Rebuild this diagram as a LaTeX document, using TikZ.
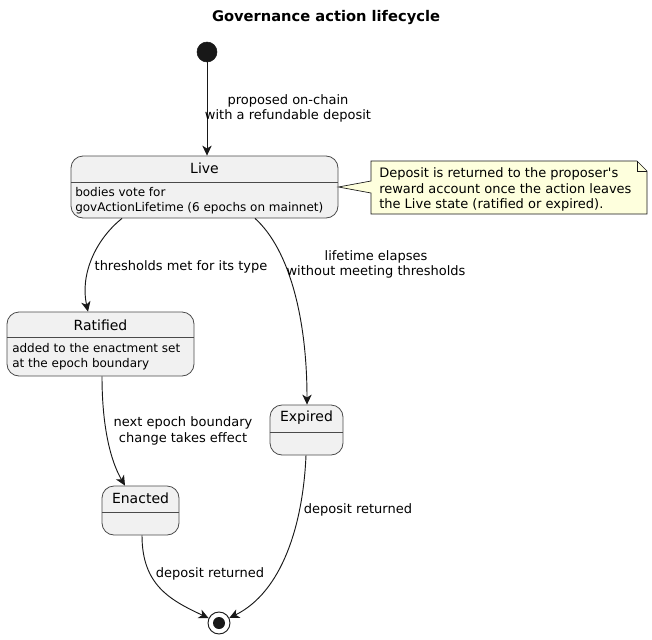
\documentclass[tikz,border=0pt]{standalone}
\usepackage{fontspec}
\setmainfont{DejaVu Sans}
\usetikzlibrary{arrows.meta,calc}
\definecolor{statefill}{HTML}{F1F1F1}
\definecolor{stateborder}{HTML}{4A4A4A}
\definecolor{notefill}{HTML}{FEFFDD}
\definecolor{ink}{HTML}{181818}
\begin{document}
\begin{tikzpicture}[x=0.75pt,y=-0.75pt,
  statebox/.style 2 args={draw=stateborder, fill=statefill, line width=0.6pt,
    rounded corners=9pt, inner sep=0pt, minimum width=0.75pt*#1, minimum height=0.75pt*#2},
  stitle/.style={font=\fontsize{10.5}{12.6}\selectfont, text=black, inner sep=0pt},
  sbody/.style={font=\fontsize{9}{11}\selectfont, text=black, align=left, anchor=west, inner sep=0pt},
  sepline/.style={draw=stateborder, line width=0.6pt},
  edge/.style={draw=ink, line width=0.7pt, -{Stealth[length=7.5pt,width=7pt,inset=2.2pt]}},
  elabel/.style={font=\fontsize{9.75}{11.4}\selectfont, align=center, inner sep=0pt},
  notetext/.style={font=\fontsize{9.75}{11.6}\selectfont, align=left, anchor=west, inner sep=0pt}
]
\useasboundingbox (0,0) rectangle (652,639);

% title
\node[font=\bfseries\fontsize{11}{13}\selectfont] (title) at (326,18) {Governance action lifecycle};

% start
\node[circle, fill=ink, draw=ink, minimum size=15pt, inner sep=0pt] (Start) at (207,52) {};

% Live
\node[statebox={267}{62}] (Live) at (204.5,187) {};
\draw[sepline] (Live.west |- 0,182) -- (Live.east |- 0,182);
\node[stitle] (LiveT) at (204.5,168) {Live};
\node[sbody] (LiveB) at (75,200.5) {bodies vote for\\govActionLifetime (6 epochs on mainnet)};

% Ratified
\node[statebox={187}{64}] (Ratified) at (100.5,344) {};
\draw[sepline] (Ratified.west |- 0,337) -- (Ratified.east |- 0,337);
\node[stitle] (RatT) at (100.5,325) {Ratified};
\node[sbody] (RatB) at (12,356.5) {added to the enactment set\\at the epoch boundary};

% Expired
\node[statebox={73}{50}] (Expired) at (306.5,430) {};
\draw[sepline] (Expired.west |- 0,432) -- (Expired.east |- 0,432);
\node[stitle] (ExpT) at (306.5,418) {Expired};

% Enacted
\node[statebox={77}{49}] (Enacted) at (140.5,510.5) {};
\draw[sepline] (Enacted.west |- 0,512) -- (Enacted.east |- 0,512);
\node[stitle] (EnaT) at (140.5,498) {Enacted};

% end
\node[circle, draw=ink, fill=white, line width=0.7pt, minimum size=16.5pt, inner sep=0pt] (End) at (219,623) {};
\node[circle, fill=ink, minimum size=9pt, inner sep=0pt] (EndIn) at (End) {};

% note
\draw[draw=ink, line width=0.5pt, fill=notefill]
  (371,161) -- (637,161) -- (647,171) -- (647,214) -- (371,214) -- (371,193)
  -- (Live.east |- 0,187) -- (371,181) -- cycle;
\draw[draw=ink, line width=0.5pt] (637,161) -- (637,171) -- (647,171);
\node[notetext] (Note) at (379,189.5) {Deposit is returned to the proposer\textquotesingle s\\reward account once the action leaves\\the Live state (ratified or expired).};

% edges
\draw[edge] (Start) -- (Start |- Live.north);
\node[elabel] (L1) at (288,108.5) {proposed on-chain\\with a refundable deposit};

\draw[edge] (122,0 |- Live.south) .. controls (95,240) and (80,275) .. (88,0 |- Ratified.north);
\node[elabel] (L2) at (181,267) {thresholds met for its type};

\draw[edge] (255,0 |- Live.south) .. controls (290,250) and (307,320) .. (307,0 |- Expired.north);
\node[elabel] (L3) at (376,264.5) {lifetime elapses\\without meeting thresholds};

\draw[edge] (102,0 |- Ratified.south) .. controls (102,425) and (110,460) .. (125,0 |- Enacted.north);
\node[elabel] (L4) at (183,431) {next epoch boundary\\change takes effect};

\draw[edge] (306,0 |- Expired.south) .. controls (303,525) and (282,592) .. (End);
\node[elabel] (L5) at (358,510) {deposit returned};

\draw[edge] (142,0 |- Enacted.south) .. controls (142,585) and (170,600) .. (End);
\node[elabel] (L6) at (210,574) {deposit returned};
\end{tikzpicture}
\end{document}
